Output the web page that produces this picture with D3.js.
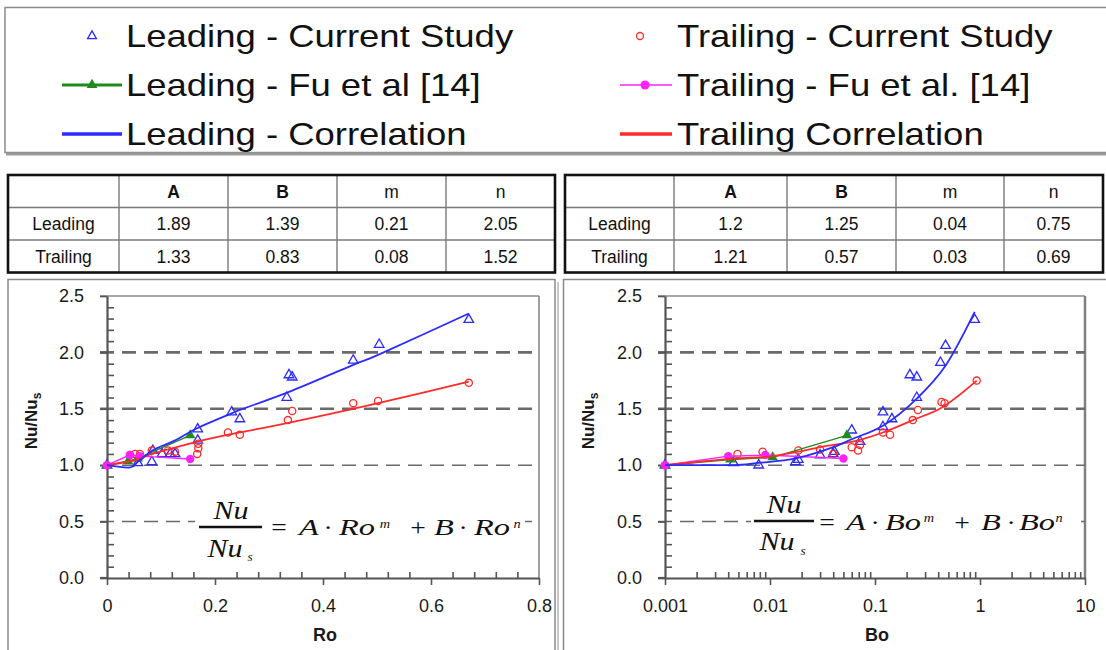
<!DOCTYPE html>
<html><head><meta charset="utf-8">
<script src="https://cdn.jsdelivr.net/npm/d3@7"></script>
<style>body{margin:0;background:#fff}svg{display:block}</style>
</head><body>
<svg id="c" width="1106" height="650"></svg>
<script>
// ---------------- DATA ----------------
const legendLabels = ["Leading - Current Study", "Trailing - Current Study",
  "Leading - Fu et al [14]", "Trailing - Fu et al. [14]",
  "Leading - Correlation", "Trailing Correlation"];
const tableHeader = ["", "A", "B", "m", "n"];
const tableRowNames = ["Leading", "Trailing"];
const roLeadingCoef = ["1.89", "1.39", "0.21", "2.05"];
const roTrailingCoef = ["1.33", "0.83", "0.08", "1.52"];
const boLeadingCoef = ["1.2", "1.25", "0.04", "0.75"];
const boTrailingCoef = ["1.21", "0.57", "0.03", "0.69"];

const yTicks = [0, 0.5, 1.0, 1.5, 2.0, 2.5];
const gridValues = [0.5, 1.0, 1.5, 2.0];
const roTicks = [0, 0.2, 0.4, 0.6, 0.8];
const roTickLabels = ["0", "0.2", "0.4", "0.6", "0.8"];
const boTicks = [0.001, 0.01, 0.1, 1, 10];
const boTickLabels = ["0.001", "0.01", "0.1", "1", "10"];

// Ro plot
const roLeadingStudy = [[0,1.0],[0.057,1.02],[0.083,1.03],[0.085,1.13],[0.102,1.10],[0.117,1.10],[0.126,1.10],
  [0.168,1.22],[0.168,1.32],[0.231,1.47],[0.246,1.41],[0.333,1.60],[0.337,1.80],[0.343,1.78],
  [0.456,1.93],[0.504,2.07],[0.670,2.29]];
const roTrailingStudy = [[0,1.0],[0.043,1.09],[0.052,1.10],[0.061,1.10],[0.083,1.13],[0.113,1.13],[0.126,1.12],
  [0.167,1.10],[0.169,1.15],[0.169,1.19],[0.224,1.29],[0.246,1.27],[0.335,1.40],[0.343,1.48],
  [0.456,1.55],[0.502,1.57],[0.670,1.73]];
const roLeadingFu = [[0,1.0],[0.039,1.035],[0.057,1.06],[0.154,1.265]];
const roTrailingFu = [[0,1.0],[0.042,1.09],[0.061,1.08],[0.154,1.055]];
const roLeadingCorr = [[0,1.0],[0.043,0.98],[0.057,1.03],[0.084,1.13],[0.102,1.17],[0.126,1.22],[0.168,1.33],
  [0.231,1.46],[0.246,1.49],[0.337,1.65],[0.456,1.89],[0.503,1.98],[0.670,2.345]];
const roTrailingCorr = [[0,1.0],[0.043,1.035],[0.061,1.06],[0.083,1.10],[0.113,1.14],[0.168,1.21],[0.224,1.27],
  [0.246,1.29],[0.340,1.38],[0.456,1.50],[0.502,1.55],[0.670,1.74]];

// Bo plot
const boLeadingStudy = [[0.001,1.0],[0.0045,1.02],[0.0078,1.00],[0.0175,1.03],[0.0186,1.05],[0.030,1.09],
  [0.040,1.10],[0.041,1.12],[0.060,1.31],[0.072,1.21],[0.119,1.47],[0.119,1.34],[0.145,1.41],
  [0.215,1.80],[0.25,1.78],[0.25,1.60],[0.42,1.91],[0.47,2.06],[0.89,2.29]];
const boTrailingStudy = [[0.001,1.0],[0.0049,1.10],[0.0085,1.12],[0.0186,1.13],[0.030,1.14],[0.040,1.10],
  [0.060,1.16],[0.069,1.13],[0.072,1.18],[0.119,1.29],[0.139,1.27],[0.229,1.40],[0.256,1.49],
  [0.43,1.56],[0.46,1.55],[0.93,1.75]];
const boLeadingFu = [[0.001,1.0],[0.0042,1.05],[0.0106,1.07],[0.054,1.265]];
const boTrailingFu = [[0.001,1.0],[0.0040,1.08],[0.0090,1.09],[0.050,1.06]];
const boLeadingCorr = [[0.001,1.0],[0.0045,1.0],[0.0078,1.02],[0.0175,1.06],[0.030,1.12],[0.040,1.16],
  [0.060,1.23],[0.119,1.35],[0.25,1.59],[0.46,1.87],[0.89,2.36]];
const boTrailingCorr = [[0.001,1.0],[0.0049,1.06],[0.0106,1.08],[0.0186,1.12],[0.030,1.16],[0.069,1.22],
  [0.119,1.29],[0.229,1.40],[0.43,1.51],[0.93,1.75]];

// ---------------- STYLE ----------------
const SANS = "'Liberation Sans', Arial, Helvetica, sans-serif";
const SERIF = "'Liberation Serif', 'Times New Roman', serif";
const C = {lead:"#2b2bff", trail:"#ff2a2a", fuLead:"#1f8a1f", fuTrail:"#ff22ff", grid:"#6a6a6a", axis:"#555"};

const svg = d3.select("#c");

// ---------------- LEGEND ----------------
svg.append("rect").attr("x",5).attr("y",7.5).attr("width",1130).attr("height",145)
  .attr("fill","#fff").attr("stroke","#8a8a8a").attr("stroke-width",1.5);
svg.append("line").attr("x1",6).attr("x2",1106).attr("y1",154).attr("y2",154)
  .attr("stroke","#9a9a9a").attr("stroke-width",3);

const legX = [126, 677], legY = [47, 96, 145], legMid = [36, 85, 134];
const legMarkX = [92, 645], legLine = [[62,122],[620,672]];
legendLabels.forEach((t,i)=>{
  const col = i%2, row = Math.floor(i/2);
  svg.append("text").attr("transform",`translate(${legX[col]},${legY[row]}) scale(1.14,1)`)
    .attr("font-family",SANS).attr("font-size",32).attr("fill","#111").text(t);
});
const triSmall = d3.symbol(d3.symbolTriangle, 34)();
const triFill = d3.symbol(d3.symbolTriangle, 50)();
svg.append("path").attr("d",triSmall).attr("transform",`translate(${legMarkX[0]},${legMid[0]})`)
  .attr("fill","none").attr("stroke",C.lead).attr("stroke-width",1.3);
svg.append("circle").attr("cx",legMarkX[1]-5).attr("cy",legMid[0]).attr("r",3.5)
  .attr("fill","none").attr("stroke",C.trail).attr("stroke-width",1.3);
svg.append("line").attr("x1",legLine[0][0]).attr("x2",legLine[0][1]).attr("y1",legMid[1]).attr("y2",legMid[1])
  .attr("stroke",C.fuLead).attr("stroke-width",3);
svg.append("path").attr("d",triFill).attr("transform",`translate(${legMarkX[0]},${legMid[1]})`).attr("fill",C.fuLead);
svg.append("line").attr("x1",legLine[1][0]).attr("x2",legLine[1][1]).attr("y1",legMid[1]).attr("y2",legMid[1])
  .attr("stroke",C.fuTrail).attr("stroke-width",1.5);
svg.append("circle").attr("cx",legMarkX[1]).attr("cy",legMid[1]).attr("r",4.5).attr("fill",C.fuTrail);
svg.append("line").attr("x1",legLine[0][0]).attr("x2",legLine[0][1]).attr("y1",legMid[2]).attr("y2",legMid[2])
  .attr("stroke",C.lead).attr("stroke-width",3.5);
svg.append("line").attr("x1",legLine[1][0]).attr("x2",legLine[1][1]).attr("y1",legMid[2]).attr("y2",legMid[2])
  .attr("stroke",C.trail).attr("stroke-width",3.5);

// ---------------- TABLES ----------------
function drawTable(xs, ys, leading, trailing){
  const g = svg.append("g");
  const rows = [tableHeader, [tableRowNames[0], ...leading], [tableRowNames[1], ...trailing]];
  const W = xs[xs.length-1]-xs[0], H = ys[ys.length-1]-ys[0];
  g.append("rect").attr("x",xs[0]).attr("y",ys[0]).attr("width",W).attr("height",H).attr("fill","#fff");
  xs.slice(1,-1).forEach(x=>g.append("line").attr("x1",x).attr("x2",x).attr("y1",ys[0]).attr("y2",ys[ys.length-1])
    .attr("stroke","#7a7a7a").attr("stroke-width",1.4));
  ys.slice(1,-1).forEach(y=>g.append("line").attr("x1",xs[0]).attr("x2",xs[xs.length-1]).attr("y1",y).attr("y2",y)
    .attr("stroke","#7a7a7a").attr("stroke-width",1.4));
  g.append("rect").attr("x",xs[0]).attr("y",ys[0]).attr("width",W).attr("height",H)
    .attr("fill","none").attr("stroke","#111").attr("stroke-width",2.6);
  rows.forEach((r,ri)=>r.forEach((t,ci)=>{
    g.append("text").attr("x",(xs[ci]+xs[ci+1])/2).attr("y",(ys[ri]+ys[ri+1])/2).attr("dy","0.36em")
      .attr("text-anchor","middle").attr("font-family",SANS).attr("font-size",17.5)
      .attr("font-weight", ri===0 && (ci===1||ci===2) ? "bold" : "normal")
      .attr("fill","#111").text(t);
  }));
}
drawTable([8,119,228,337,446,555],[175,207.5,240,272.5], roLeadingCoef, roTrailingCoef);
drawTable([565,674,787,896,1004,1103],[175,207.5,240,272.5], boLeadingCoef, boTrailingCoef);

// ---------------- PANELS ----------------
svg.append("rect").attr("x",8).attr("y",279.5).attr("width",547).attr("height",390)
  .attr("fill","none").attr("stroke","#8a8a8a").attr("stroke-width",1.5);
svg.append("line").attr("x1",558).attr("x2",558).attr("y1",282).attr("y2",650).attr("stroke","#c8c8c8").attr("stroke-width",2);
svg.append("rect").attr("x",563.5).attr("y",279.5).attr("width",560).attr("height",390)
  .attr("fill","none").attr("stroke","#8a8a8a").attr("stroke-width",1.5);

// ---------------- PLOTS ----------------
const y = d3.scaleLinear([0, 2.5], [578, 296]);
const yMinor = d3.range(0, 25).map(i=>i/10).filter(v=>Math.abs(v*2-Math.round(v*2))>1e-6);

function drawPlot(cfg){
  const {x, xTicks, xLabels, xMinor, title, titleX, ylabX, s, eq, corrCurve} = cfg;
  const g = svg.append("g");
  const [xl, xr] = x.range();
  g.append("line").attr("x1",xl-7).attr("x2",xr).attr("y1",y(2.5)).attr("y2",y(2.5)).attr("stroke","#8a8a8a").attr("stroke-width",1.5);
  g.append("line").attr("x1",xr).attr("x2",xr).attr("y1",y(2.5)).attr("y2",y(0)).attr("stroke","#808080").attr("stroke-width",cfg.rightW||1.5);
  g.selectAll("line.grid").data(gridValues).join("line").attr("class","grid")
    .attr("x1",xl-7).attr("x2",xr).attr("y1",d=>y(d)).attr("y2",d=>y(d))
    .attr("stroke",C.grid).attr("stroke-width",d=>d>=1.5?2.6:1.5).attr("stroke-dasharray","14,8");
  g.append("rect").attr("x",eq.box[0]).attr("y",eq.box[1]).attr("width",eq.box[2]).attr("height",eq.box[3]).attr("fill","#fff");
  const ya = g.append("g").attr("transform",`translate(${xl},0)`)
    .call(d3.axisLeft(y).tickValues(yTicks).tickFormat(d3.format(".1f")).tickSize(7).tickPadding(16).tickSizeOuter(0));
  const yb = g.append("g").attr("transform",`translate(${xl},0)`)
    .call(d3.axisRight(y).tickValues(yMinor).tickFormat("").tickSize(7).tickSizeOuter(0));
  const xa = g.append("g").attr("transform",`translate(0,${y(0)})`)
    .call(d3.axisBottom(x).tickValues(xTicks).tickFormat((d,i)=>xLabels[i]).tickSize(7).tickPadding(14).tickSizeOuter(0));
  const xb = g.append("g").attr("transform",`translate(0,${y(0)})`)
    .call(d3.axisTop(x).tickValues(xMinor).tickFormat("").tickSize(6).tickSizeOuter(0));
  yb.select(".domain").remove(); xb.select(".domain").remove();
  [ya,yb,xa,xb].forEach(a=>{
    a.selectAll(".domain").attr("stroke",C.axis).attr("stroke-width",2.2);
    a.selectAll(".tick line").attr("stroke",C.axis).attr("stroke-width",1.6);
    a.selectAll("text").attr("font-family",SANS).attr("font-size",18).attr("fill","#1a1a1a");
  });
  g.append("line").attr("x1",xl-7).attr("x2",xl).attr("y1",y(0)).attr("y2",y(0)).attr("stroke",C.axis).attr("stroke-width",2.2);
  g.append("text").attr("x",titleX).attr("y",641).attr("text-anchor","middle").attr("font-family",SANS)
    .attr("font-size",18).attr("font-weight","bold").attr("fill","#1a1a1a").text(title);
  const yl = g.append("text").attr("transform",`translate(${ylabX},421) rotate(-90)`).attr("text-anchor","middle")
    .attr("font-family",SANS).attr("font-size",17).attr("font-weight","bold").attr("fill","#1a1a1a");
  yl.append("tspan").text("Nu/Nu");
  yl.append("tspan").attr("font-size",12).attr("dy",4).text("s");

  // equation
  const eg = g.append("g").attr("font-family",SERIF).attr("font-style","italic").attr("fill","#111");
  const put = (t, px, py, fs, sx, style) => eg.append("text")
    .attr("transform",`translate(${px},${py}) scale(${sx},1)`).attr("text-anchor","middle")
    .attr("font-size",fs).attr("font-style",style||"italic").text(t);
  put("Nu", eq.num[0], eq.num[1], 25, 1.2);
  eg.append("line").attr("x1",eq.bar[0]).attr("x2",eq.bar[1]).attr("y1",eq.bar[2]).attr("y2",eq.bar[2]).attr("stroke","#111").attr("stroke-width",2.4);
  put("Nu", eq.den[0], eq.den[1], 25, 1.2);
  put("s", eq.den[2], eq.den[3], 12, 1.1);
  eq.parts.forEach(p=>{
    const sup = p[2]==="sup";
    const op = (p[0]==="="||p[0]==="+"||p[0]==="·");
    put(p[0], p[1], sup?eq.supY:eq.baseY, sup?13:24, op?1.15:(sup?1.1:1.35), op?"normal":"italic");
  });

  // data
  const lineSmooth = d3.line().x(d=>x(d[0])).y(d=>y(d[1])).curve(corrCurve);
  const lineStraight = d3.line().x(d=>x(d[0])).y(d=>y(d[1]));
  const tri = d3.symbol(d3.symbolTriangle, 40)();
  const triF = d3.symbol(d3.symbolTriangle, 48)();
  g.selectAll("path.ls").data(s.leadStudy).join("path").attr("class","ls").attr("d",tri)
    .attr("transform",d=>`translate(${x(d[0])},${y(d[1])})`).attr("fill","none").attr("stroke",C.lead).attr("stroke-width",1.3);
  g.selectAll("circle.ts").data(s.trailStudy).join("circle").attr("class","ts")
    .attr("cx",d=>x(d[0])).attr("cy",d=>y(d[1])).attr("r",3.6).attr("fill","none").attr("stroke",C.trail).attr("stroke-width",1.3);
  g.append("path").attr("d",lineStraight(s.leadFu)).attr("fill","none").attr("stroke",C.fuLead).attr("stroke-width",1.4);
  g.selectAll("path.lf").data(s.leadFu).join("path").attr("class","lf").attr("d",triF)
    .attr("transform",d=>`translate(${x(d[0])},${y(d[1])})`).attr("fill",C.fuLead);
  g.append("path").attr("d",lineStraight(s.trailFu)).attr("fill","none").attr("stroke",C.fuTrail).attr("stroke-width",1.4);
  g.selectAll("circle.tf").data(s.trailFu).join("circle").attr("class","tf")
    .attr("cx",d=>x(d[0])).attr("cy",d=>y(d[1])).attr("r",4.2).attr("fill",C.fuTrail);
  g.append("path").attr("d",lineSmooth(s.trailCorr)).attr("fill","none").attr("stroke",C.trail).attr("stroke-width",1.8);
  g.append("path").attr("d",lineSmooth(s.leadCorr)).attr("fill","none").attr("stroke",C.lead).attr("stroke-width",1.8);
}

const roX = d3.scaleLinear([0, 0.8], [107, 539]);
const roMinor = d3.range(0, 21).map(i=>i*0.04).filter((v,i)=>i%5!==0);
drawPlot({
  x: roX, xTicks: roTicks, xLabels: roTickLabels, xMinor: roMinor, title: "Ro", titleX: 325, ylabX: 37,
  corrCurve: d3.curveCardinal.tension(0),
  s: {leadStudy: roLeadingStudy, trailStudy: roTrailingStudy, leadFu: roLeadingFu, trailFu: roTrailingFu,
      leadCorr: roLeadingCorr, trailCorr: roTrailingCorr},
  eq: {box:[195,495,330,70], num:[231,519], bar:[199,262,527], den:[225,557,250,561], baseY:535, supY:528,
       parts:[["=",279],["A",309],["·",328],["Ro",357],["m",385,"sup"],["+",418],["B",444],["·",463],["Ro",492],["n",517,"sup"]]}
});

const boX = d3.scaleLog([0.001, 10], [665, 1085]);
const boMinor = [];
[0.001, 0.01, 0.1, 1].forEach(d=>{ for (let k=2;k<=9;k++) boMinor.push(k*d); });
drawPlot({
  x: boX, xTicks: boTicks, xLabels: boTickLabels, xMinor: boMinor, title: "Bo", titleX: 877, ylabX: 594, rightW: 2.5,
  corrCurve: d3.curveMonotoneX,
  s: {leadStudy: boLeadingStudy, trailStudy: boTrailingStudy, leadFu: boLeadingFu, trailFu: boTrailingFu,
      leadCorr: boLeadingCorr, trailCorr: boTrailingCorr},
  eq: {box:[751,493,330,70], num:[784,513], bar:[754,814,521], den:[777,550,803,555], baseY:530, supY:522,
       parts:[["=",827],["A",856],["·",875],["Bo",903],["m",929,"sup"],["+",962],["B",991],["·",1011],["Bo",1037],["n",1059,"sup"]]}
});
</script>
</body></html>
